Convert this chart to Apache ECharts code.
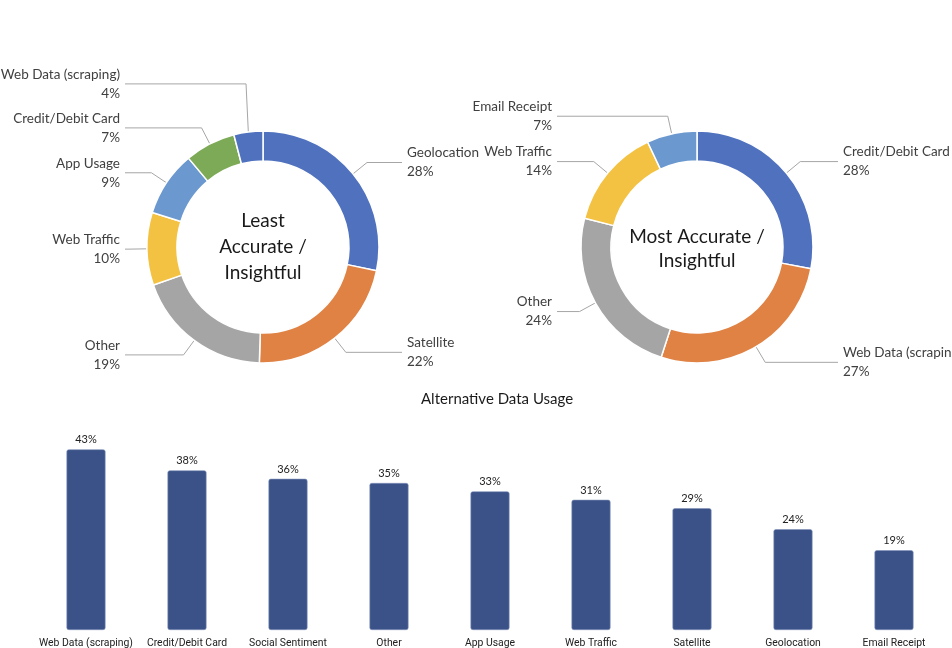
<!DOCTYPE html>
<html><head><meta charset="utf-8">
<script src="https://cdn.jsdelivr.net/npm/echarts@6/dist/echarts.min.js"></script>
<style>html,body{margin:0;padding:0;background:#fff}#c{width:952px;height:648px}</style>
</head><body><div id="c"></div>
<script>
const leastNames = ['Geolocation','Satellite','Other','Web Traffic','App Usage','Credit/Debit Card','Web Data (scraping)'];
const leastValues = [28,22,19,10,9,7,4];
const mostNames = ['Credit/Debit Card','Web Data (scraping)','Other','Web Traffic','Email Receipt'];
const mostValues = [28,27,24,14,7];
const usageCategories = ['Web Data (scraping)','Credit/Debit Card','Social Sentiment','Other','App Usage','Web Traffic','Satellite','Geolocation','Email Receipt'];
const usageValues = [43,38,36,35,33,31,29,24,19];

const leastColors = ['#4F71BE','#DF8244','#A5A5A5','#F4C242','#6A98CF','#7DAA57','#4F71BE'];
const mostColors = ['#4F71BE','#DF8244','#A5A5A5','#F4C242','#6A98CF'];

const centers = [[263,247],[697,247]];
const textOffsets = [[143,144],[145,146]];
const R_OUT = 116, R_IN = 86, LEN = 18, GAP = 44;

// label vertical placement: radial position, overlapping labels pushed upward
function computeLabelY(values, cy){
  const total = values.reduce((a,b)=>a+b,0);
  let cum = 0; const items = [];
  values.forEach((v,i)=>{
    const th = 2*Math.PI*(cum+v/2)/total; cum += v;
    items.push({i:i, left:Math.sin(th)<0, y: cy - (R_OUT+LEN)*Math.cos(th)});
  });
  [true,false].forEach(side=>{
    const s = items.filter(o=>o.left===side).sort((a,b)=>b.y-a.y);
    for (let k=1;k<s.length;k++){ if (s[k-1].y - s[k].y < GAP) s[k].y = s[k-1].y - GAP; }
  });
  const ys = []; items.forEach(o=>{ ys[o.i] = o.y; }); return ys;
}
const labelYs = [computeLabelY(leastValues, centers[0][1]), computeLabelY(mostValues, centers[1][1])];

function makeLayout(idx){
  return function(p){
    const cx = centers[idx][0];
    const lr = p.labelRect;
    const isLeft = (lr.x + lr.width/2) < cx;
    const yc = labelYs[idx][p.dataIndex];
    const pts = p.labelLinePoints;
    const off = textOffsets[idx];
    const endX = isLeft ? cx - off[0] + 5 : cx + off[1] - 5;
    const res = {
      x: isLeft ? cx - off[0] : cx + off[1],
      y: yc,
      align: isLeft ? 'right' : 'left',
      verticalAlign: 'middle'
    };
    if (pts) res.labelLinePoints = [pts[0], [pts[1][0], yc], [endX, yc]];
    return res;
  };
}

function pieSeries(idx, names, values, colors){
  return {
    type:'pie', center:centers[idx], radius:[R_IN,R_OUT], startAngle:90, clockwise:true,
    silent:true, animation:false, avoidLabelOverlap:false,
    data: names.map((n,i)=>({name:n, value:values[i], itemStyle:{color:colors[i]}})),
    itemStyle:{borderColor:'#fff', borderWidth:1.5},
    label:{show:true, position:'outside', formatter:'{b}\n{c}%', fontFamily:'Lato', fontSize:13.5, color:'#404040', lineHeight:19, width:140, overflow:'none'},
    labelLine:{show:true, length:LEN, length2:10, lineStyle:{color:'#A6A6A6', width:1}},
    labelLayout: makeLayout(idx)
  };
}

const chart = echarts.init(document.getElementById('c'));
chart.setOption({
  animation:false,
  backgroundColor:'#fff',
  title:{text:'Alternative Data Usage', left:416, top:387, textStyle:{fontFamily:'Lato', fontSize:15, fontWeight:'normal', color:'#1a1a1a'}},
  grid:{left:35.5, right:7.5, top:420, bottom:18, outerBoundsMode:'none'},
  xAxis:{type:'category', data:usageCategories, axisLine:{show:false}, axisTick:{show:false},
    axisLabel:{fontFamily:'Roboto', fontSize:10.4, color:'#222', margin:8, interval:0}},
  yAxis:{type:'value', min:0, max:50, show:false, splitLine:{show:false}},
  series:[
    {type:'bar', data:usageValues, barWidth:39,
     itemStyle:{color:'#3A5288', borderRadius:2, borderColor:'#8292b8', borderWidth:0.6},
     label:{show:true, position:'top', formatter:'{c}%', fontFamily:'Lato', fontSize:11, color:'#222', distance:4}},
    pieSeries(0, leastNames, leastValues, leastColors),
    pieSeries(1, mostNames, mostValues, mostColors)
  ],
  graphic:[
    {type:'text', x:263, y:247, style:{text:'Least\nAccurate /\nInsightful', fontFamily:'Lato', fontSize:19, fill:'#1a1a1a', align:'center', verticalAlign:'middle', lineHeight:26}},
    {type:'text', x:697, y:249, style:{text:'Most Accurate /\nInsightful', fontFamily:'Lato', fontSize:19, fill:'#1a1a1a', align:'center', verticalAlign:'middle', lineHeight:24}}
  ]
});
</script></body></html>
